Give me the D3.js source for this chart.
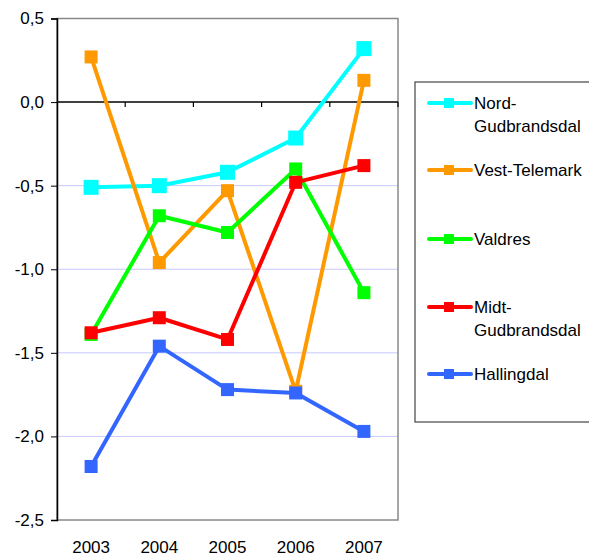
<!DOCTYPE html>
<html>
<head>
<meta charset="utf-8">
<script src="https://cdn.jsdelivr.net/npm/d3@7"></script>
<style>
  body { margin: 0; background: #fff; }
  text { font-family: "Liberation Sans", Arial, sans-serif; }
</style>
</head>
<body>
<div id="chart"></div>
<script>
// years on the x axis
var years = ["2003", "2004", "2005", "2006", "2007"];
var seriesNames = ["Nord-Gudbrandsdal", "Vest-Telemark", "Valdres", "Midt-Gudbrandsdal", "Hallingdal"];
var nordGudbrandsdal = [-0.51, -0.50, -0.42, -0.215, 0.32];
var vestTelemark = [0.27, -0.96, -0.53, -1.73, 0.13];
var valdres = [-1.39, -0.68, -0.78, -0.40, -1.14];
var midtGudbrandsdal = [-1.38, -1.29, -1.42, -0.48, -0.38];
var hallingdal = [-2.18, -1.46, -1.72, -1.74, -1.97];
var yTicks = [0.5, 0, -0.5, -1, -1.5, -2, -2.5];

(function () {
    "use strict";

    var colors = ["#00ffff", "#ff9900", "#00ff00", "#ff0000", "#3366ff"];
    var allValues = [nordGudbrandsdal, vestTelemark, valdres, midtGudbrandsdal, hallingdal];

    var w = 589, h = 554;
    var pLeft = 57, pRight = 398, pTop = 18.5, pBottom = 520;

    var svg = d3.select("#chart").append("svg")
        .attr("width", w)
        .attr("height", h);

    var x = d3.scaleBand().domain(years).range([pLeft, pRight]);
    var y = d3.scaleLinear().domain([-2.5, 0.5]).range([pBottom, pTop]);

    // gridlines
    svg.selectAll("line.grid")
        .data(yTicks.filter(function (d) { return d < 0 && d > -2.5; }))
        .enter().append("line")
        .attr("class", "grid")
        .attr("x1", pLeft).attr("x2", pRight)
        .attr("y1", function (d) { return y(d); })
        .attr("y2", function (d) { return y(d); })
        .attr("stroke", "#c8c8ff")
        .attr("stroke-width", 1);

    // plot border (gray)
    svg.append("rect")
        .attr("x", pLeft).attr("y", y(0.5))
        .attr("width", pRight - pLeft).attr("height", y(-2.5) - y(0.5))
        .attr("fill", "none")
        .attr("stroke", "#888")
        .attr("stroke-width", 1.5);

    // y axis
    var yAxis = d3.axisLeft(y)
        .tickValues(yTicks)
        .tickSize(6)
        .tickFormat(function (d) { return d3.format(".1f")(d).replace(".", ",").replace("\u2212", "-"); });
    var gy = svg.append("g").attr("transform", "translate(" + pLeft + ",0)").call(yAxis);
    gy.select(".domain").attr("stroke", "#000").attr("stroke-width", 1.5);
    gy.selectAll(".tick line").attr("stroke", "#000");
    gy.selectAll("text")
        .attr("font-size", 17)
        .attr("fill", "#000")
        .attr("font-family", "Liberation Sans, Arial, sans-serif")
        .attr("x", -13);

    // zero line with category ticks
    var gx = svg.append("g").attr("transform", "translate(0," + y(0) + ")");
    gx.append("line")
        .attr("x1", pLeft).attr("x2", pRight)
        .attr("stroke", "#000").attr("stroke-width", 1.5);
    var bounds = years.map(function (d) { return x(d) + x.bandwidth(); });
    gx.selectAll("line.ct").data(bounds).enter().append("line")
        .attr("x1", function (d) { return d; }).attr("x2", function (d) { return d; })
        .attr("y1", 0).attr("y2", 5)
        .attr("stroke", "#000").attr("stroke-width", 1.2);

    // year labels
    svg.selectAll("text.year").data(years).enter().append("text")
        .attr("x", function (d) { return x(d) + x.bandwidth() / 2; })
        .attr("y", 553)
        .attr("text-anchor", "middle")
        .attr("font-size", 17)
        .text(function (d) { return d; });

    // series lines and markers
    var line = d3.line()
        .x(function (d, i) { return x(years[i]) + x.bandwidth() / 2; })
        .y(function (d) { return y(d); });

    allValues.forEach(function (vals, k) {
        svg.append("path")
            .datum(vals)
            .attr("d", line)
            .attr("fill", "none")
            .attr("stroke", colors[k])
            .attr("stroke-width", 4)
            .attr("stroke-linejoin", "round");
        var s = k === 0 ? 15 : 13;
        svg.selectAll("rect.m" + k).data(vals).enter().append("rect")
            .attr("class", "m" + k)
            .attr("x", function (d, i) { return x(years[i]) + x.bandwidth() / 2 - s / 2; })
            .attr("y", function (d) { return y(d) - s / 2; })
            .attr("width", s).attr("height", s)
            .attr("fill", colors[k]);
    });

    // legend
    svg.append("rect")
        .attr("x", 415).attr("y", 82)
        .attr("width", 190).attr("height", 340)
        .attr("fill", "#fff")
        .attr("stroke", "#444")
        .attr("stroke-width", 1.2);

    var legendY = [103, 170, 239, 307, 374];
    var legendLines = [["Nord-", "Gudbrandsdal"], ["Vest-Telemark"], ["Valdres"], ["Midt-", "Gudbrandsdal"], ["Hallingdal"]];
    legendLines.forEach(function (lines, k) {
        var g = svg.append("g").attr("transform", "translate(0," + legendY[k] + ")");
        g.append("line")
            .attr("x1", 429).attr("x2", 471)
            .attr("y1", 0).attr("y2", 0)
            .attr("stroke", colors[k]).attr("stroke-width", 4)
            .attr("stroke-linecap", "round");
        g.append("rect")
            .attr("x", 444).attr("y", -5)
            .attr("width", 10).attr("height", 10)
            .attr("fill", colors[k]);
        lines.forEach(function (t, j) {
            g.append("text")
                .attr("x", 474)
                .attr("y", 6 + j * 23)
                .attr("font-size", 17)
                .text(t);
        });
    });
})();
</script>
</body>
</html>
